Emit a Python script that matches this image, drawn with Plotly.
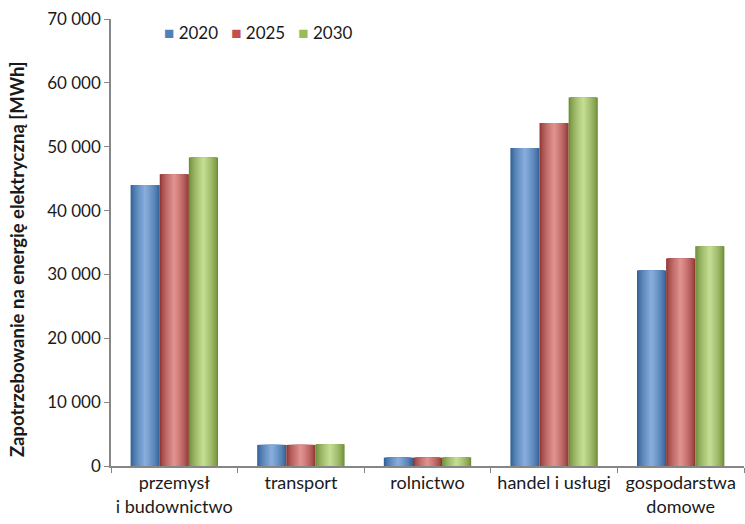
import plotly.graph_objects as go

# Sectors and demand forecasts [MWh]
categories = ["przemysł<br>i budownictwo", "transport", "rolnictwo",
              "handel i usługi", "gospodarstwa<br>domowe"]
years = ["2020", "2025", "2030"]
demand_2020 = [44000, 3300, 1300, 49800, 30600]
demand_2025 = [45700, 3300, 1300, 53700, 32500]
demand_2030 = [48300, 3400, 1350, 57700, 34400]
series = [demand_2020, demand_2025, demand_2030]

# edge colour, centre colour for the cylinder shading; base colour for the key
palettes = [("#2f5f96", "#86acdb", "#4f81bd"),
            ("#8f3431", "#e0918f", "#c0504d"),
            ("#6c8c34", "#c3dc92", "#9bbb59")]

def mix(c1, c2, t):
    a = [int(c1[i:i + 2], 16) for i in (1, 3, 5)]
    b = [int(c2[i:i + 2], 16) for i in (1, 3, 5)]
    return "#" + "".join(f"{round(x + (y - x) * t):02x}" for x, y in zip(a, b))

bar_w = 0.23
layers = 16
fig = go.Figure()
for s, (vals, year, (edge, centre, _)) in enumerate(zip(series, years, palettes)):
    centre_off = (s - 1) * bar_w
    for k in range(layers):
        w = bar_w * (1 - k / layers)
        t = (k / (layers - 1)) ** 0.7
        fig.add_trace(go.Bar(
            x=categories, y=vals, name=year,
            width=w, offset=centre_off - w / 2,
            marker=dict(color=mix(edge, centre, t), line=dict(width=0)),
            showlegend=False, legendgroup=year,
            hoverinfo="skip" if k else None,
        ))

# compact key above the bars
key = "&nbsp;&nbsp;&nbsp;".join(
    f'<span style="color:{p[2]}">■</span> {y}' for y, p in zip(years, palettes))
fig.add_annotation(text=key, xref="paper", yref="paper", x=0.08, y=0.97,
                   xanchor="left", yanchor="middle", showarrow=False,
                   font=dict(size=17))

# vertical axis title, placed a little below the plot's mid-height
fig.add_annotation(text="<b>Zapotrzebowanie na energię elektryczną [MWh]</b>",
                   xref="paper", yref="paper", x=-0.1475, y=0.462,
                   xanchor="center", yanchor="middle", textangle=-90,
                   showarrow=False, font=dict(size=18.5))

fig.update_layout(
    width=745, height=524,
    margin=dict(l=111, r=1, t=19, b=58),
    barmode="overlay",
    paper_bgcolor="white", plot_bgcolor="white",
    separators=". ",
    font=dict(family="Lato, Open Sans, sans-serif", size=17, color="#1a1a1a"),
    showlegend=False,
)
fig.update_xaxes(
    showline=True, linecolor="#868686", linewidth=1.5,
    ticks="outside", tickson="boundaries", ticklen=5, tickcolor="#868686",
    showgrid=False, range=[-0.5, 4.5], tickfont=dict(size=18),
)
fig.update_yaxes(
    range=[0, 70000], dtick=10000, tickformat=",d",
    showline=True, linecolor="#868686", linewidth=1.5,
    ticks="outside", ticklen=5, tickcolor="#868686",
    showgrid=False, zeroline=False,
)

fig.write_html("out.html")
